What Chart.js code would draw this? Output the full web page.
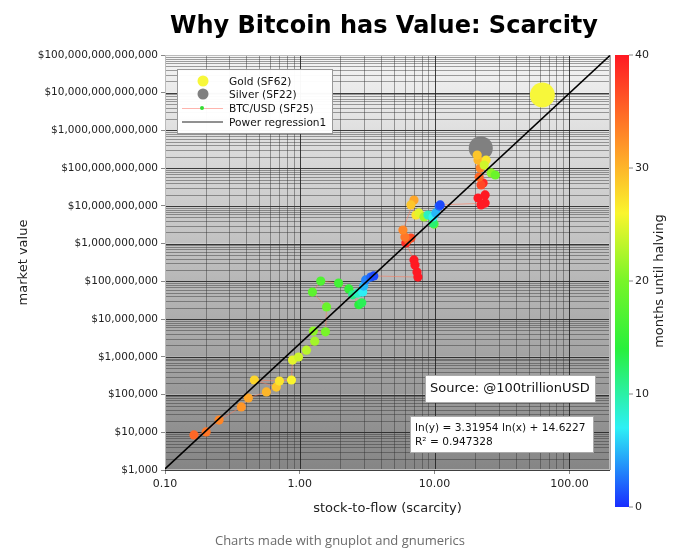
<!DOCTYPE html>
<html lang="en">
<head>
<meta charset="UTF-8">
<title>Why Bitcoin has Value: Scarcity</title>
<script src="https://cdn.jsdelivr.net/npm/chart.js"></script>
<style>
  html, body { margin: 0; padding: 0; background: #fff; }
  #wrap { width: 680px; height: 555px; }
</style>
</head>
<body>
<div id="wrap"><canvas id="s2f"></canvas></div>
<script>
// stock-to-flow (x), market value in USD (y), months until next halving (colour)
const btcSF = [0.164, 0.202, 0.252, 0.368, 0.415, 0.565, 0.670, 0.460, 0.706, 0.867,
  0.883, 0.978, 1.12, 1.29, 1.26, 1.55, 1.58, 1.24, 1.43, 1.94,
  2.31, 2.74, 2.88, 2.47, 2.69, 2.93, 2.98, 3.08, 3.36, 3.54,
  7.52, 7.40, 7.15, 7.03, 6.12, 6.67, 6.34, 6.02, 5.82, 7.03,
  6.67, 7.27, 7.65, 8.34, 9.90, 9.73, 8.93, 9.73, 10.2, 10.8, 11.0,
  23.7, 22.1, 21.0, 23.7, 22.9, 22.1, 21.4, 21.8, 21.0, 20.7,
  24.1, 23.3, 26.3, 28.2];
const btcValue = [8.5e3, 1.02e4, 2.1e4, 4.7e4, 8.1e4, 1.17e5, 1.58e5, 2.43e5, 2.28e5, 2.43e5,
  8.2e5, 9.9e5, 1.5e6, 2.6e6, 4.8e6, 4.6e6, 2.1e7, 5.2e7, 1.02e8, 9.0e7,
  6.3e7, 2.4e7, 2.7e7, 4.4e7, 4.9e7, 5.2e7, 7.5e7, 1.09e8, 1.30e8, 1.39e8,
  1.30e8, 1.77e8, 2.7e8, 3.7e8, 1.04e9, 1.41e9, 1.25e9, 1.50e9, 2.3e9, 1.43e10,
  1.06e10, 5.7e9, 6.5e9, 5.1e9, 3.3e9, 3.5e9, 5.7e9, 5.1e9, 6.5e9, 9.9e9, 1.06e10,
  1.19e10, 1.06e10, 1.62e10, 1.95e10, 4.05e10, 3.6e10, 5.8e10, 1.01e11, 1.64e11, 2.23e11,
  1.64e11, 1.21e11, 7.5e10, 6.6e10];
const btcMonths = [35, 34, 33, 32, 31, 30, 29, 28, 27, 26,
  25, 24, 23, 22, 21, 20, 19, 18, 17, 16,
  15, 14, 13, 11, 9, 7, 5, 3, 2, 1,
  43, 42, 41, 40, 39, 37, 36, 34, 33, 31,
  29, 27, 25, 22, 18, 12, 9, 7, 5, 2, 1,
  46, 45, 44, 42, 39, 37, 35, 33, 30, 29,
  27, 24, 21, 19];

const goldPoint = { sf: 63, value: 8.7e12 };
const silverPoint = { sf: 22, value: 3.4e11 };

// power regression line end points (x = 0.10 and x = 200)
const regSF = [0.1, 200];
const regValue = [1.07e3, 9.75e13];

const xTicks = [0.1, 1, 10, 100];
const yTicks = [1e3, 1e4, 1e5, 1e6, 1e7, 1e8, 1e9, 1e10, 1e11, 1e12, 1e13, 1e14];
const barTicks = [0, 10, 20, 30, 40];

// jet-like palette used by the colour bar
const palette = [
  [0, [25, 45, 255]],
  [7, [45, 240, 245]],
  [14, [40, 240, 60]],
  [20, [120, 245, 40]],
  [26, [250, 245, 45]],
  [32, [255, 150, 40]],
  [40, [255, 25, 35]]
];

function monthColor(m) {
  m = Math.max(0, Math.min(40, m));
  for (let i = 1; i < palette.length; i++) {
    if (m <= palette[i][0]) {
      const a = palette[i - 1], b = palette[i];
      const t = (m - a[0]) / (b[0] - a[0]);
      const c = a[1].map((v, k) => Math.round(v + (b[1][k] - v) * t));
      return 'rgb(' + c.join(',') + ')';
    }
  }
  return 'rgb(255,25,35)';
}

const FONT = "'DejaVu Sans', sans-serif";

// background bands + log grid behind the points
const gridPlugin = {
  id: 'grid',
  beforeDatasetsDraw(chart) {
    const { ctx, chartArea: a, scales: { x, y } } = chart;
    ctx.save();
    // gray background, lighter at top, stepped per decade
    for (let e = 3; e < 14; e++) {
      const top = y.getPixelForValue(Math.pow(10, e + 1));
      const bot = y.getPixelForValue(Math.pow(10, e));
      const level = 137 + (e - 3) * 10;
      const g = ctx.createLinearGradient(0, top, 0, bot);
      g.addColorStop(0, 'rgb(' + [level + 8, level + 8, level + 8] + ')');
      g.addColorStop(1, 'rgb(' + [level - 4, level - 4, level - 4] + ')');
      ctx.fillStyle = g;
      ctx.fillRect(a.left, top, a.right - a.left, bot - top);
    }
    // minor and major lines
    ctx.lineWidth = 1;
    for (let e = 3; e < 14; e++) {
      for (let k = 1; k < 10; k++) {
        const py = Math.round(y.getPixelForValue(k * Math.pow(10, e))) + 0.5;
        ctx.strokeStyle = k === 1 ? 'rgba(30,30,30,0.85)' : 'rgba(50,50,50,0.45)';
        ctx.beginPath(); ctx.moveTo(a.left, py); ctx.lineTo(a.right, py); ctx.stroke();
      }
    }
    for (let e = -1; e < 3; e++) {
      for (let k = 1; k < 10; k++) {
        const v = k * Math.pow(10, e);
        if (v > 200) continue;
        const px = Math.round(x.getPixelForValue(v)) + 0.5;
        ctx.strokeStyle = k === 1 ? 'rgba(30,30,30,0.85)' : 'rgba(50,50,50,0.45)';
        ctx.beginPath(); ctx.moveTo(px, a.top); ctx.lineTo(px, a.bottom); ctx.stroke();
      }
    }
    ctx.strokeStyle = '#bbb';
    ctx.strokeRect(a.left + 0.5, a.top + 0.5, a.right - a.left - 1, a.bottom - a.top - 1);
    ctx.restore();
  }
};

// title, boxes, legend, colour bar and footer
const decorPlugin = {
  id: 'decor',
  afterDraw(chart) {
    const { ctx } = chart;
    ctx.save();
    ctx.fillStyle = '#000';
    ctx.textAlign = 'center';
    ctx.textBaseline = 'middle';
    ctx.font = 'bold 24px ' + FONT;
    ctx.fillText('Why Bitcoin has Value: Scarcity', 384, 27);

    ctx.font = '13px "Open Sans", sans-serif';
    ctx.fillStyle = '#6b6b6b';
    ctx.fillText('Charts made with gnuplot and gnumerics', 340, 541);

    // legend
    ctx.fillStyle = 'rgba(255,255,255,0.97)';
    ctx.fillRect(177, 69, 155, 64);
    ctx.strokeStyle = '#999';
    ctx.strokeRect(177.5, 69.5, 155, 64);
    ctx.textAlign = 'left';
    ctx.font = '10.6px ' + FONT;
    const rows = [81, 94, 108, 122];
    ctx.fillStyle = '#f7f73a';
    ctx.beginPath(); ctx.arc(203, rows[0], 5.5, 0, Math.PI * 2); ctx.fill();
    ctx.fillStyle = '#808080';
    ctx.beginPath(); ctx.arc(203, rows[1], 5.5, 0, Math.PI * 2); ctx.fill();
    ctx.strokeStyle = 'rgba(255,150,140,0.7)';
    ctx.lineWidth = 1;
    ctx.beginPath(); ctx.moveTo(182, rows[2] + 0.5); ctx.lineTo(223, rows[2] + 0.5); ctx.stroke();
    ctx.fillStyle = '#33dd33';
    ctx.beginPath(); ctx.arc(202, rows[2], 2, 0, Math.PI * 2); ctx.fill();
    ctx.strokeStyle = '#222';
    ctx.lineWidth = 1.2;
    ctx.beginPath(); ctx.moveTo(182, rows[3]); ctx.lineTo(223, rows[3]); ctx.stroke();
    ctx.fillStyle = '#111';
    ['Gold (SF62)', 'Silver (SF22)', 'BTC/USD (SF25)', 'Power regression1']
      .forEach((t, i) => ctx.fillText(t, 229, rows[i] + 1));

    // source box
    ctx.fillStyle = '#fff';
    ctx.fillRect(425, 375, 170, 27);
    ctx.strokeStyle = '#aaa';
    ctx.lineWidth = 1;
    ctx.strokeRect(425.5, 375.5, 170, 27);
    ctx.fillStyle = '#111';
    ctx.font = '13px ' + FONT;
    ctx.fillText('Source: @100trillionUSD', 430, 389);

    // regression box
    ctx.fillStyle = '#fff';
    ctx.fillRect(410, 416, 183, 36);
    ctx.strokeRect(410.5, 416.5, 183, 36);
    ctx.fillStyle = '#111';
    ctx.font = '10.6px ' + FONT;
    ctx.fillText('ln(y) = 3.31954 ln(x) + 14.6227', 415, 428);
    ctx.fillText('R\u00b2 = 0.947328', 415, 442);

    // colour bar
    const cbTop = 55, cbBot = 507, cbL = 615, cbW = 14;
    const grad = ctx.createLinearGradient(0, cbBot, 0, cbTop);
    palette.forEach(p => grad.addColorStop(p[0] / 40, 'rgb(' + p[1].join(',') + ')'));
    ctx.fillStyle = grad;
    ctx.fillRect(cbL, cbTop, cbW, cbBot - cbTop);
    ctx.strokeStyle = '#888';
    ctx.font = '11px ' + FONT;
    ctx.fillStyle = '#222';
    barTicks.forEach(t => {
      const py = cbBot - (t / 40) * (cbBot - cbTop);
      ctx.beginPath(); ctx.moveTo(cbL + cbW, py); ctx.lineTo(cbL + cbW + 4, py); ctx.stroke();
      ctx.fillText(String(t), cbL + cbW + 6, py);
    });
    ctx.translate(660, 281);
    ctx.rotate(-Math.PI / 2);
    ctx.textAlign = 'center';
    ctx.font = '13px ' + FONT;
    ctx.fillText('months until halving', 0, 0);
    ctx.restore();
  }
};

const ctx = document.getElementById('s2f').getContext('2d');

new Chart(ctx, {
  type: 'scatter',
  data: {
    datasets: [
      {
        label: 'Power regression1',
        type: 'line',
        data: regSF.map((v, i) => ({ x: v, y: regValue[i] })),
        borderColor: '#000',
        borderWidth: 1.5,
        pointRadius: 0,
        fill: false
      },
      {
        label: 'BTC/USD (SF25)',
        data: btcSF.map((v, i) => ({ x: v, y: btcValue[i] })),
        showLine: true,
        borderColor: 'rgba(255,120,90,0.55)',
        borderWidth: 1,
        pointRadius: 4.6,
        pointBorderWidth: 0,
        pointBackgroundColor: btcMonths.map(monthColor)
      },
      {
        label: 'Silver (SF22)',
        data: [{ x: silverPoint.sf, y: silverPoint.value }],
        pointRadius: 12,
        pointBorderWidth: 0,
        pointBackgroundColor: '#808080'
      },
      {
        label: 'Gold (SF62)',
        data: [{ x: goldPoint.sf, y: goldPoint.value }],
        pointRadius: 12.5,
        pointBorderWidth: 0,
        pointBackgroundColor: '#f7f73a'
      }
    ]
  },
  options: {
    responsive: true,
    maintainAspectRatio: false,
    animation: false,
    layout: { padding: { left: 12, right: 70, top: 55, bottom: 37 } },
    plugins: {
      legend: { display: false },
      tooltip: { enabled: false }
    },
    scales: {
      x: {
        type: 'logarithmic',
        min: 0.1,
        max: 200,
        afterBuildTicks: s => { s.ticks = xTicks.map(v => ({ value: v })); },
        afterFit: s => { s.height = 48; },
        ticks: {
          autoSkip: false,
          maxRotation: 0,
          padding: 4,
          color: '#222',
          font: { family: FONT, size: 11 },
          callback: v => Number(v).toFixed(2)
        },
        grid: { drawOnChartArea: false, tickLength: 4, color: '#888' },
        border: { display: false },
        title: { display: true, text: 'stock-to-flow (scarcity)', color: '#222', font: { family: FONT, size: 13 }, padding: 2 }
      },
      y: {
        type: 'logarithmic',
        min: 1e3,
        max: 1e14,
        afterBuildTicks: s => { s.ticks = yTicks.map(v => ({ value: v })); },
        afterFit: s => { s.width = 153; },
        ticks: {
          autoSkip: false,
          padding: 3,
          color: '#222',
          font: { family: FONT, size: 10.5 },
          callback: v => '$' + Number(v).toLocaleString('en-US')
        },
        grid: { drawOnChartArea: false, tickLength: 4, color: '#888' },
        border: { display: false },
        title: { display: true, text: 'market value', color: '#222', font: { family: FONT, size: 13 }, padding: 4 }
      }
    }
  },
  plugins: [gridPlugin, decorPlugin]
});
</script>
</body>
</html>
